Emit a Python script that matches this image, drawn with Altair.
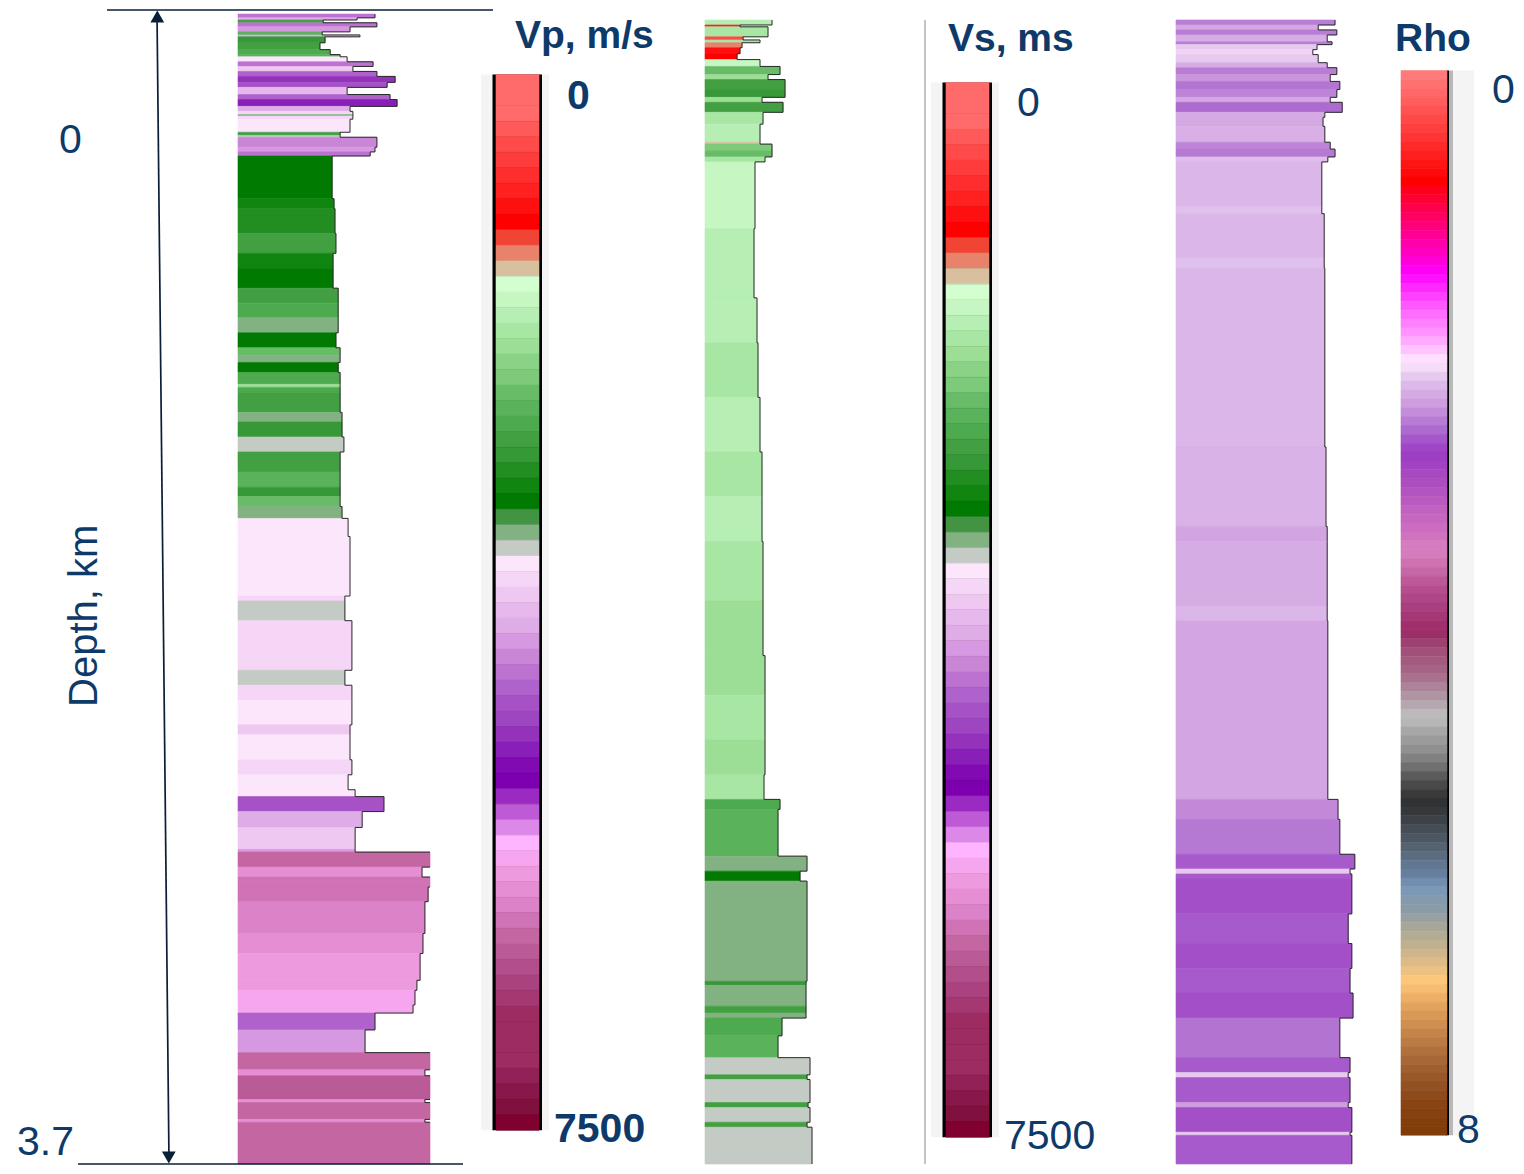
import altair as alt
import pandas as pd

# ---------------- colour bars ----------------
# Vp / Vs colour bar (0 ... 7500), equal steps from top to bottom
vel_palette = (["#FF6B6B"] * 3 + [
    "#FF5A5A", "#FF4A4A", "#FF3C3C", "#FF2E2E", "#FF2020", "#FF1010", "#FF0000",
    "#F04434", "#E8826A", "#D8C09E", "#D2FED0", "#C6F6C2", "#B6EEB4", "#A8E6A4",
    "#9CDE96", "#8AD286", "#7CCA7A", "#68BC68", "#5AB25A", "#4EAA4E", "#42A042",
    "#369836", "#228E22", "#108610", "#007A00", "#429442", "#82B282", "#C4CAC4",
    "#FCE6FC", "#F6D6F6", "#EEC8F0", "#E6B8EC", "#DEACE6", "#D698E0", "#CA86D6",
    "#BC72D0", "#B062CC", "#A652C6", "#9E46C2", "#9432BC", "#8A1EB8", "#820AB2",
    "#7C00B0", "#9A2AC2", "#BE5AD6", "#DC88E8", "#FFB4FF", "#F6A6EE", "#EE9ADE",
    "#E68ED4", "#DC82C8", "#D072B6", "#C466A2", "#BA5A96", "#B24E8A", "#AA4280",
    "#A43872"] + ["#9C2C62"] * 4 + ["#902258", "#88184A", "#80103E", "#800030"])
VEL_MAX = 7500

# Rho colour bar (0 ... 8) stops
rho_stops = [0, 0.22, 0.83, 0.96, 1.18, 1.41, 1.52, 1.79, 2.01, 2.19, 2.33, 2.49,
             2.68, 2.87, 3.13, 3.29, 3.48, 3.61, 3.75, 3.88, 4.04, 4.22, 4.35, 4.54,
             4.72, 4.86, 4.96, 5.10, 5.21, 5.28, 5.37, 5.48, 5.60, 5.72, 5.87, 6.04,
             6.14, 6.31, 6.44, 6.57, 6.68, 6.84, 7.00, 7.16, 7.32, 7.49, 7.64, 7.81, 8.0]
rho_stop_colors = ["#FF8080", "#FF6060", "#FF0000", "#FF0030", "#FF0080", "#FF00D0",
                   "#FF00FF", "#FF60FF", "#FFA0FF", "#FFE8FF", "#E0C0EC", "#D0A0E0",
                   "#B070D0", "#9A3CC4", "#B050C0", "#C060C0", "#D070C0", "#D880C0",
                   "#C86AA8", "#B85090", "#A83E7E", "#9C2A66", "#A04E78", "#A86A88",
                   "#B09AA6", "#C0C0C0", "#A8A8A8", "#909090", "#787878", "#606060",
                   "#484848", "#303030", "#383C40", "#48505A", "#586878", "#6880A0",
                   "#7898B8", "#8C9CA8", "#A8A898", "#C0B090", "#D8B888", "#FFC878",
                   "#E8A860", "#D09050", "#B87840", "#A06030", "#905020", "#884010",
                   "#803C08"]
RHO_MAX = 8
RHO_STEPS = 120

# ---------------- logs (depth in m, band tops) ----------------
DEPTH_END = 3700

vp_top = [13, 25, 32, 41, 54, 70, 80, 86, 105, 127,
          143, 150, 166, 181, 197, 213, 232, 248, 271, 287,
          309, 325, 335, 340, 350, 392, 402, 408, 440, 455,
          468, 605, 637, 716, 780, 828, 892, 940, 987, 1035,
          1083, 1108, 1130, 1162, 1200, 1210, 1226, 1290, 1321, 1369,
          1417, 1481, 1530, 1560, 1592, 1630, 1688, 1879, 1895, 1958,
          2117, 2165, 2213, 2292, 2324, 2404, 2452, 2500, 2522, 2570,
          2621, 2691, 2700, 2748, 2780, 2812, 2859, 2961, 3025, 3111,
          3143, 3190, 3216, 3270, 3343, 3398, 3417, 3493, 3503, 3557,
          3566]
vp_trace = [4280, 3720, 2660, 4340, 3500, 2630, 3810, 2720, 2560, 2880,
            3190, 3410, 4220, 3590, 4340, 4910, 4660, 3410, 4750, 4970,
            3500, 3590, 3590, 3590, 3500, 3190, 3190, 4340, 4280, 4130,
            2940, 3000, 3030, 3060, 2970, 2970, 3130, 3130, 3130, 3060,
            3190, 3190, 3130, 3190, 3190, 3190, 3190, 3250, 3250, 3310,
            3190, 3190, 3190, 3190, 3250, 3440, 3500, 3340, 3340, 3560,
            3340, 3560, 3560, 3500, 3500, 3560, 3440, 3660, 4560, 3880,
            3660, 3660, 6300, 5750, 6300, 5940, 5840, 5780, 5690, 5590,
            5530, 5470, 4280, 3970, 6300, 5840, 6300, 5840, 6300, 5840,
            6300]
vp_color = [4246, 3915, 2592, 4246, 4026, 2371, 3915, 2702, 2592, 2482,
            2371, 3474, 4246, 3695, 4357, 4688, 4467, 3805, 4357, 4798,
            3915, 3585, 3254, 3585, 3474, 2592, 3364, 4136, 4026, 4246,
            3033, 2923, 2813, 2592, 2923, 3033, 2592, 2482, 3254, 3033,
            2261, 3254, 3033, 2482, 1930, 2482, 2592, 3254, 2702, 3364,
            2592, 2371, 2702, 2261, 3254, 3474, 3474, 3585, 3364, 3585,
            3364, 3585, 3474, 3695, 3474, 3585, 3474, 3474, 4467, 3915,
            3695, 4026, 6121, 5790, 6011, 6011, 5901, 5790, 5680, 5680,
            5570, 5570, 4357, 4026, 6121, 5790, 6232, 5790, 6121, 5790,
            6121]

vs_top = [32, 48, 54, 86, 96, 105, 121, 140, 159, 181,
          207, 223, 255, 280, 296, 328, 366, 424, 430, 452,
          471, 487, 701, 923, 1067, 1242, 1417, 1560, 1704, 1895,
          2070, 2197, 2340, 2452, 2531, 2563, 2713, 2761, 2793, 3114,
          3127, 3194, 3216, 3232, 3289, 3359, 3414, 3429, 3503, 3519,
          3566, 3582]
vs_trace = [1675, 875, 1575, 950, 1375, 925, 875, 800, 1375, 1875,
            1575, 2000, 2000, 1425, 1950, 1450, 1375, 1375, 1675, 1675,
            1500, 1250, 1225, 1300, 1325, 1375, 1425, 1425, 1450, 1450,
            1500, 1500, 1500, 1475, 1875, 1825, 2550, 2375, 2550, 2525,
            2525, 2525, 2525, 1925, 1825, 2625, 2550, 2625, 2575, 2625,
            2550, 2675]
vs_color = [1710, 827, 1820, 496, 1820, 1268, 938, 1048, 1599, 2261,
            1930, 2592, 2702, 1930, 2592, 1820, 1710, 1379, 2151, 2261,
            1820, 1599, 1710, 1710, 1820, 1710, 1820, 1710, 1820, 1930,
            1930, 1820, 1930, 1820, 2482, 2371, 3254, 3033, 3254, 2702,
            3254, 2592, 3254, 2482, 2371, 3364, 2592, 3364, 2592, 3364,
            2592, 3364]

rho_top = [32, 48, 64, 80, 102, 111, 127, 143, 169, 185,
           207, 229, 255, 280, 296, 328, 344, 373, 424, 446,
           471, 487, 630, 653, 796, 828, 1401, 1656, 1704, 1911,
           1958, 2531, 2595, 2707, 2754, 2770, 2786, 2898, 2993, 3073,
           3152, 3232, 3359, 3407, 3423, 3503, 3519, 3598, 3608]
rho_trace = [2.65, 2.37, 2.68, 2.52, 2.60, 2.35, 2.28, 2.37, 2.52, 2.68,
             2.57, 2.73, 2.68, 2.57, 2.77, 2.48, 2.45, 2.48, 2.57, 2.65,
             2.53, 2.43, 2.43, 2.47, 2.47, 2.48, 2.50, 2.52, 2.52, 2.52,
             2.53, 2.70, 2.73, 2.98, 2.90, 2.93, 2.93, 2.87, 2.93, 2.90,
             2.95, 2.73, 2.90, 2.87, 2.90, 2.87, 2.93, 2.90, 2.93]
rho_color = [2.63, 2.45, 2.63, 2.43, 2.63, 2.30, 2.26, 2.30, 2.43, 2.63,
             2.53, 2.66, 2.60, 2.45, 2.70, 2.44, 2.45, 2.41, 2.60, 2.64,
             2.34, 2.38, 2.33, 2.38, 2.33, 2.38, 2.40, 2.47, 2.43, 2.38,
             2.46, 2.58, 2.65, 2.76, 2.30, 2.76, 2.80, 2.76, 2.80, 2.76,
             2.80, 2.67, 2.76, 2.30, 2.76, 2.50, 2.80, 2.30, 2.76]

# ---------------- labels ----------------
title_labels = ["Vp, m/s", "Vs, ms", "Rho"]
bar_min_labels = ["0", "0", "0"]
bar_max_labels = ["7500", "7500", "8"]
depth_labels = ["0", "3.7", "Depth, km"]

NAVY = "#0E3A69"
LINE = "#0A1E38"
FONT = "Liberation Sans, Arial, sans-serif"

W, H = 1508, 1158
depth_scale = alt.Scale(domain=[0, DEPTH_END], range=[2, 1156], nice=False, zero=False)


def band_frame(tops, trace, color):
    bottoms = tops[1:] + [DEPTH_END]
    return pd.DataFrame({"top": tops, "bottom": bottoms, "trace": trace,
                         "val": color, "base": [0] * len(tops)})


def edge_frame(tops, trace, tmax):
    bottoms = tops[1:] + [DEPTH_END]
    t = [min(v, tmax) for v in trace]
    rows = []
    for i in range(len(tops)):
        if t[i] < tmax:
            rows.append(dict(x0=t[i], x1=t[i], d0=tops[i], d1=bottoms[i]))
        if i + 1 < len(tops) and not (t[i] >= tmax and t[i + 1] >= tmax):
            rows.append(dict(x0=t[i], x1=t[i + 1], d0=bottoms[i], d1=bottoms[i]))
    return pd.DataFrame(rows)


def log_layers(tops, trace, color, xdom, xrange, cscale):
    xs = alt.Scale(domain=xdom, range=xrange, clamp=True, nice=False, zero=False)
    rect = alt.Chart(band_frame(tops, trace, color)).mark_rect(strokeWidth=0.6).encode(
        x=alt.X("base:Q", scale=xs, axis=None),
        x2="trace:Q",
        y=alt.Y("top:Q", scale=depth_scale, axis=None),
        y2="bottom:Q",
        color=alt.Color("val:Q", scale=cscale, legend=None),
        stroke=alt.Stroke("val:Q", scale=cscale, legend=None),
    )
    edge = alt.Chart(edge_frame(tops, trace, xdom[1])).mark_rule(
        color="#2b2b2b", strokeWidth=1).encode(
        x=alt.X("x0:Q", scale=xs, axis=None), x2="x1:Q",
        y=alt.Y("d0:Q", scale=depth_scale, axis=None), y2="d1:Q")
    return [rect, edge]


def vel_scale():
    return alt.Scale(type="quantize", domain=[0, VEL_MAX], range=vel_palette,
                     nice=False, zero=False)


def rho_scale():
    return alt.Scale(type="linear", domain=rho_stops, range=rho_stop_colors,
                     interpolate="rgb", nice=False, zero=False)


def colorbar_layers(vmax, n, cscale, yrange, strip, frame, colors):
    ys = alt.Scale(domain=[0, vmax], range=yrange, nice=False, zero=False)
    step = vmax / n
    df = pd.DataFrame({"v0": [i * step for i in range(n)],
                       "v1": [(i + 1) * step for i in range(n)],
                       "vm": [(i + 0.5) * step for i in range(n)]})
    box = pd.DataFrame({"v0": [0], "v1": [vmax]})
    out = []
    for (xl, xr, col) in strip + frame:
        out.append(alt.Chart(box).mark_rect(color=col).encode(
            x=alt.value(xl), x2=alt.value(xr),
            y=alt.Y("v0:Q", scale=ys, axis=None), y2="v1:Q"))
    out.append(alt.Chart(df).mark_rect(strokeWidth=0.6).encode(
        x=alt.value(colors[0]), x2=alt.value(colors[1]),
        y=alt.Y("v0:Q", scale=ys, axis=None), y2="v1:Q",
        color=alt.Color("vm:Q", scale=cscale, legend=None),
        stroke=alt.Stroke("vm:Q", scale=cscale, legend=None)))
    return out


def text(txt, x, y, size, bold=False, angle=0, align="left", baseline="alphabetic"):
    return alt.Chart(pd.DataFrame({"t": [txt]})).mark_text(
        font=FONT, fontSize=size, fontWeight="bold" if bold else "normal",
        color=NAVY, angle=angle, align=align, baseline=baseline).encode(
        text="t:N", x=alt.value(x), y=alt.value(y))


layers = []

# colour bars
layers += colorbar_layers(VEL_MAX, len(vel_palette), vel_scale(), [66.6, 1122.2],
                          [(473, 541, "#F4F4F4")], [(484.5, 534, "#000000")], (488, 531))
layers += colorbar_layers(VEL_MAX, len(vel_palette), vel_scale(), [74.5, 1129.2],
                          [(923, 991, "#F4F4F4")], [(934.5, 984, "#000000")], (938, 981))
layers += colorbar_layers(RHO_MAX, RHO_STEPS, rho_scale(), [62.6, 1127.2],
                          [(1445, 1466, "#F4F4F4")],
                          [(1438, 1441, "#000000"), (1441, 1445, "#B8B8B8")], (1393, 1439))

# logs
layers += log_layers(vp_top, vp_trace, vp_color, [0, 6000], [230, 422], vel_scale())
layers += log_layers(vs_top, vs_trace, vs_color, [0, 3000], [697, 817], vel_scale())
layers += log_layers(rho_top, rho_trace, rho_color, [0, 3], [1168, 1348], rho_scale())

# separator line
layers.append(alt.Chart(pd.DataFrame({"d0": [32], "d1": [DEPTH_END]})).mark_rule(
    color="#8a8a8a", strokeWidth=1).encode(
    x=alt.value(917), y=alt.Y("d0:Q", scale=depth_scale, axis=None), y2="d1:Q"))

# depth frame lines and arrow
layers.append(alt.Chart(pd.DataFrame({"d": [0]})).mark_rule(
    color=LINE, strokeWidth=1.5).encode(
    x=alt.value(99), x2=alt.value(485), y=alt.Y("d:Q", scale=depth_scale, axis=None)))
layers.append(alt.Chart(pd.DataFrame({"d": [DEPTH_END]})).mark_rule(
    color=LINE, strokeWidth=1.5).encode(
    x=alt.value(70), x2=alt.value(455), y=alt.Y("d:Q", scale=depth_scale, axis=None)))
layers.append(alt.Chart(pd.DataFrame({"d0": [8], "d1": [DEPTH_END - 8]})).mark_rule(
    color=LINE, strokeWidth=1.7).encode(
    x=alt.value(149), x2=alt.value(161),
    y=alt.Y("d0:Q", scale=depth_scale, axis=None), y2="d1:Q"))
layers.append(alt.Chart(pd.DataFrame({"d": [21]})).mark_point(
    shape="triangle-up", filled=True, size=190, color=LINE, opacity=1).encode(
    x=alt.value(149.3), y=alt.Y("d:Q", scale=depth_scale, axis=None)))
layers.append(alt.Chart(pd.DataFrame({"d": [DEPTH_END - 21]})).mark_point(
    shape="triangle-down", filled=True, size=190, color=LINE, opacity=1).encode(
    x=alt.value(160.8), y=alt.Y("d:Q", scale=depth_scale, axis=None)))

# texts
layers += [
    text(title_labels[0], 507, 39.7, 39, bold=True),
    text(title_labels[1], 940, 42.7, 39, bold=True),
    text(title_labels[2], 1387, 42.7, 39, bold=True),
    text(bar_min_labels[0], 559, 101.3, 41, bold=True),
    text(bar_max_labels[0], 546, 1134, 41, bold=True),
    text(bar_min_labels[1], 1009, 108.3, 41),
    text(bar_max_labels[1], 996, 1141, 41),
    text(bar_min_labels[2], 1484, 95.4, 41),
    text(bar_max_labels[2], 1449, 1135, 41),
    text(depth_labels[0], 51, 145, 41),
    text(depth_labels[1], 9, 1147, 41),
    text(depth_labels[2], 77, 607.8, 40, angle=270, align="center", baseline="middle"),
]

chart = alt.layer(*layers).resolve_scale(
    x="independent", y="independent", color="independent", stroke="independent"
).properties(
    width=W, height=H, padding=0,
    autosize=alt.AutoSizeParams(type="none"),
).configure_view(stroke=None)

chart.save("out.html", embed_options={"renderer": "svg", "actions": False})
